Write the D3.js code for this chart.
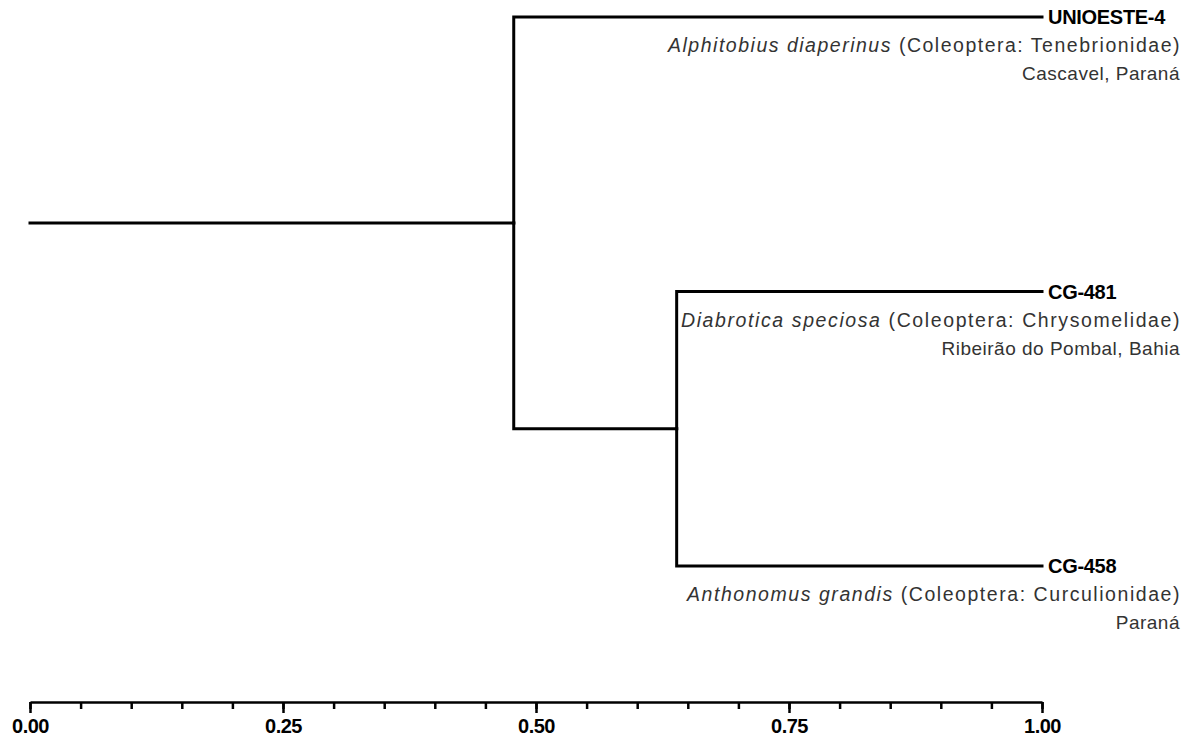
<!DOCTYPE html>
<html>
<head>
<meta charset="utf-8">
<script src="https://cdn.jsdelivr.net/npm/d3@7"></script>
<style>
  html, body { margin: 0; padding: 0; background: #fff; }
  svg { display: block; }
  .link { fill: none; stroke: #000; stroke-width: 3; stroke-linejoin: miter; stroke-linecap: square; }
  .axis path, .axis line { stroke: #000; stroke-width: 2.5; }
  .axis text { font-family: "Liberation Sans", Arial, sans-serif; font-weight: bold; font-size: 20px; fill: #000; letter-spacing: -0.5px; }
  .id { font-family: "Liberation Sans", Arial, sans-serif; font-weight: bold; font-size: 20px; fill: #000; letter-spacing: -0.3px; }
  .info { font-family: "Liberation Sans", Arial, sans-serif; font-size: 19px; fill: #333; letter-spacing: 0.5px; }
  .host { font-size: 19.5px; }
</style>
</head>
<body>
<svg id="chart" width="1190" height="738"></svg>
<script>
// Isolates (leaves), top to bottom
const isolates = ["UNIOESTE-4", "CG-481", "CG-458"];
const hosts = ["Alphitobius diaperinus", "Diabrotica speciosa", "Anthonomus grandis"];
const hostTaxa = ["(Coleoptera: Tenebrionidae)", "(Coleoptera: Chrysomelidae)", "(Coleoptera: Curculionidae)"];
const localities = ["Cascavel, Paraná", "Ribeirão do Pombal, Bahia", "Paraná"];

// Clustering levels (distance from the root) of the internal nodes
const nodeNames = ["root", "n1", "n2"];
const nodeLevels = [0.0, 0.478, 0.639];
const leafLevel = 1.0;

// Axis ticks
const majorTicks = [0.00, 0.25, 0.50, 0.75, 1.00];
const minorTicks = d3.range(0, 21).map(i => i / 20);

// Tree structure: root -> n1 -> [UNIOESTE-4, n2 -> [CG-481, CG-458]]
const leaf = i => ({ name: isolates[i], level: leafLevel, idx: i });
const treeData = {
  name: nodeNames[0], level: nodeLevels[0],
  children: [{
    name: nodeNames[1], level: nodeLevels[1],
    children: [
      leaf(0),
      { name: nodeNames[2], level: nodeLevels[2], children: [leaf(1), leaf(2)] }
    ]
  }]
};

const svg = d3.select("#chart");
const x = d3.scaleLinear().domain([0, 1]).range([30, 1042]);
const y = d3.scalePoint().domain(isolates).range([17, 566]);
const axisY = 702;
const textRight = 1180;

// Vertical placement: leaves evenly spaced, each internal node midway
// between its first and last child
const root = d3.hierarchy(treeData);
root.eachAfter(n => {
  n.py = n.children
    ? (n.children[0].py + n.children[n.children.length - 1].py) / 2
    : y(n.data.name);
});

// Elbow links: vertical at the parent's level, then horizontal to the child
svg.append("g")
  .selectAll("path")
  .data(root.links())
  .join("path")
  .attr("class", "link")
  .attr("d", d => {
    const px = x(d.source.data.level), py = d.source.py;
    const cx = x(d.target.data.level), cy = d.target.py;
    return `M${px},${py}V${cy}H${cx}`;
  });

// Leaf labels
const labels = svg.append("g")
  .selectAll("g")
  .data(root.leaves())
  .join("g")
  .attr("transform", d => `translate(0,${d.py})`);

labels.append("text")
  .attr("class", "id")
  .attr("x", x(leafLevel) + 6)
  .attr("y", 7)
  .text(d => d.data.name);

// Host line spans from just right of the inner node to the right margin
const hostStart = [668, 681, 687];
const line2 = labels.append("text")
  .attr("class", "info host")
  .attr("x", textRight)
  .attr("y", 35)
  .attr("text-anchor", "end")
  .attr("textLength", d => textRight - hostStart[d.data.idx])
  .attr("lengthAdjust", "spacing");
line2.append("tspan").attr("font-style", "italic").text(d => hosts[d.data.idx]);
line2.append("tspan").text(d => " " + hostTaxa[d.data.idx]);

labels.append("text")
  .attr("class", "info")
  .attr("x", textRight)
  .attr("y", 63)
  .attr("text-anchor", "end")
  .text(d => localities[d.data.idx]);

// Distance axis
const axisG = svg.append("g").attr("class", "axis").attr("transform", `translate(0,${axisY})`);
axisG.append("g")
  .call(d3.axisBottom(x).tickValues(minorTicks).tickSize(7).tickFormat(""))
  .call(g => g.select(".domain").remove());
axisG.append("g")
  .call(d3.axisBottom(x).tickValues(majorTicks).tickSize(11).tickSizeOuter(0).tickPadding(6).tickFormat(d3.format(".2f")));
</script>
</body>
</html>
